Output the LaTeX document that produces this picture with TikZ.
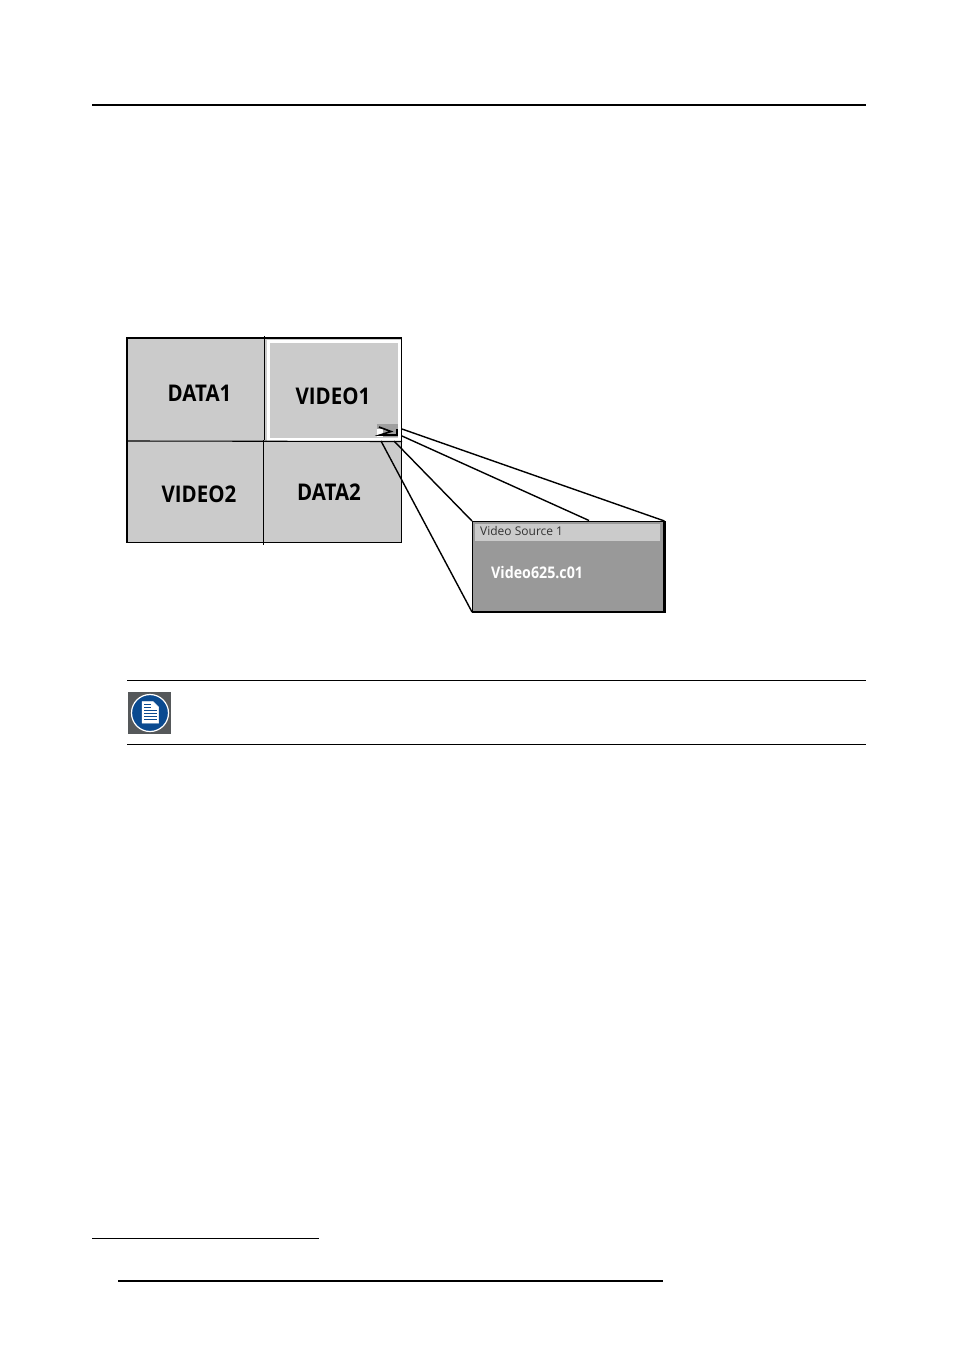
\documentclass[tikz,border=0pt]{standalone}
\usepackage{fontspec}
\setmainfont{Open Sans}
\newfontfamily\labelfont[FakeStretch=0.89]{Open Sans}
\definecolor{cellgrey}{HTML}{CBCBCB}
\definecolor{popgrey}{HTML}{999999}
\definecolor{noteblue}{HTML}{0A4A90}
\definecolor{noteback}{HTML}{55585A}
\begin{document}
\begin{tikzpicture}[x=1pt,y=-1pt]
	\tikzstyle{c} = [draw, shape=rectangle, anchor=north west, fill=cellgrey, line width=.8pt, inner sep=0pt]
	\tikzstyle{t} = [anchor=center, font=\labelfont\fontsize{23}{23}\selectfont\bfseries, inner sep=0pt]
	\tikzstyle{rule} = [line width=.8pt]
	\tikzstyle{link} = [line width=1.4pt]
  \useasboundingbox[fill=white] (0,0) rectangle (954,1350);

  % Seitenlinien
  \coordinate (headl) at (92,105);
  \coordinate (headr) at (866,105);
  \coordinate (notetl) at (127,680.5);
  \coordinate (notetr) at (866,680.5);
  \coordinate (notebl) at (127,744.5);
  \coordinate (notebr) at (866,744.5);
  \coordinate (footl) at (92,1238);
  \coordinate (footr) at (319,1238);
  \coordinate (pagel) at (118,1280.5);
  \coordinate (pager) at (663,1280.5);
  \draw[line width=2pt] (headl) -- (headr);
  \draw[rule] (notetl) -- (notetr);
  \draw[rule] (notebl) -- (notebr);
  \draw[rule] (footl) -- (footr);
  \draw[line width=2pt] (pagel) -- (pager);

  % Felder
  \node[c, minimum width=274pt, minimum height=204pt] (wall) at (127,338) {};
  \draw[line width=1.4pt] (wall.south west) -- (wall.north west) -- (wall.north east);
  \node[draw=white, fill=cellgrey, line width=3pt, anchor=north west, inner sep=0pt, minimum width=131pt, minimum height=98.5pt] (sel) at (267,339.5) {};
  \node[t] (data1) at (199.5,393) {DATA1};
  \node[t] (video1) at (333,396) {VIDEO1};
  \node[t] (video2) at (199,494) {VIDEO2};
  \node[t] (data2) at (329,492) {DATA2};
  \coordinate (vtop) at (264.7,336);
  \coordinate (vmid) at (264.7,440);
  \coordinate (vlow) at (263.7,440);
  \coordinate (vbot) at (263.7,545);
  \coordinate (hleft) at (127,441);
  \coordinate (hright) at (402,441.5);
  \draw[line width=1pt] (vtop) -- (vmid);
  \draw[line width=1pt] (vlow) -- (vbot);
  \draw[line width=1.1pt] (hleft) -- (hright);

  % Symbol
  \node[fill=gray!75, anchor=north west, inner sep=0pt, minimum width=21pt, minimum height=13pt] (src) at (377,424) {};
  \node[fill=white, anchor=north west, inner sep=0pt, minimum width=6pt, minimum height=8pt] (srcw) at (377,429) {};
  \coordinate (srca) at (379,427);
  \coordinate (srcb) at (391,431.5);
  \coordinate (srcc) at (380,435);
  \coordinate (srcd) at (397,435);
  \coordinate (srce) at (397,429);
  \draw[line width=1.6pt] (srca) -- (srcb) -- (srcc) -- (srcd) -- (srce);

  % Fenster
  \node[draw=black, fill=popgrey, anchor=north west, inner sep=0pt, line width=1pt, minimum width=191.5pt, minimum height=90pt] (pop) at (472,521) {};
  \draw[line width=2.2pt] (pop.south west) -- (pop.south east) -- (pop.north east);
  \node[fill=cellgrey, draw=popgrey, line width=2pt, anchor=north west, inner sep=0pt, minimum width=187pt, minimum height=18.5pt] (bar) at (473,522) {};
  \node[anchor=west, inner sep=0pt, text=black!80, font=\fontsize{12}{12}\selectfont] (title) at (480,531) {Video Source 1};
  \node[anchor=west, inner sep=0pt, text=white, font=\labelfont\fontsize{16}{16}\selectfont\bfseries] (name) at (491,573) {Video625.c01};

  % Verbindungen
  \coordinate (ra) at (402,429);
  \coordinate (rb) at (402,436);
  \coordinate (rc) at (394,441);
  \coordinate (rd) at (381,441);
  \coordinate (barmid) at (589,520.5);
  \draw[link] (ra) -- (pop.north east);
  \draw[link] (rb) -- (barmid);
  \draw[link] (rc) -- (pop.north west);
  \draw[link] (rd) -- (pop.south west);

  % Hinweis
  \node[fill=noteback, anchor=north west, inner sep=0pt, minimum width=43pt, minimum height=42pt] (noteicon) at (128,692) {};
  \node[draw=white, fill=noteblue, shape=circle, line width=1.2pt, inner sep=0pt, minimum width=37pt] (notedisc) at (150,713) {};
  \coordinate (pagea) at (142,701.5);
  \coordinate (pageb) at (153,701.5);
  \coordinate (pagec) at (158.5,707);
  \coordinate (paged) at (158.5,723);
  \coordinate (pagee) at (142,723);
  \draw[fill=white, draw=white, line width=.5pt] (pagea) -- (pageb) -- (pagec) -- (paged) -- (pagee) -- cycle;
  \foreach \y in {710,713,716,719} {
    \draw[noteblue, line width=.9pt] (144,\y) -- (157,\y);
  }
  \foreach \y in {704,707} {
    \draw[noteblue, line width=.9pt] (144,\y) -- (151,\y);
  }
\end{tikzpicture}
\end{document}
